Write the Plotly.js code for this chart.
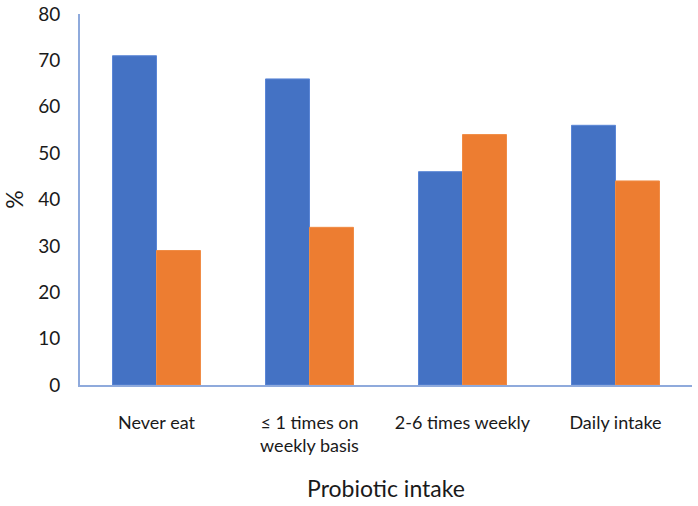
<!DOCTYPE html>
<html><head><meta charset="utf-8">
<script src="https://cdn.plot.ly/plotly-3.0.1.min.js"></script>
<style>html,body{margin:0;padding:0;background:#fff}</style>
</head><body>
<div id="chart" style="width:698px;height:506px"></div>
<script>
const categories = ["Never eat", "≤ 1 times on<br>weekly basis", "2-6 times weekly", "Daily intake"];
const seriesA = [71, 66, 46, 56];
const seriesB = [29, 34, 54, 44];
const yTicks = [0, 10, 20, 30, 40, 50, 60, 70, 80];

const font = "Lato, 'Open Sans', sans-serif";
const data = [
  {type: "bar", x: categories, y: seriesA, marker: {color: "#4472C4", line: {color: "#5b86d6", width: 1}}, showlegend: false, hoverinfo: "none"},
  {type: "bar", x: categories, y: seriesB, marker: {color: "#ED7D31", line: {color: "#f08c45", width: 1}}, showlegend: false, hoverinfo: "none"}
];
const layout = {
  width: 698, height: 506,
  margin: {l: 80, r: 6, t: 14, b: 121},
  paper_bgcolor: "#fff", plot_bgcolor: "#fff",
  barmode: "group", bargap: 0.425, bargroupgap: 0,
  font: {family: font, color: "#1a1a1a"},
  xaxis: {
    showline: true, linecolor: "#8FAADC", linewidth: 2,
    showgrid: false, zeroline: false, ticks: "",
    tickfont: {size: 18, color: "#1a1a1a"},
    ticklabelstandoff: 20,
    title: {text: "Probiotic intake", font: {size: 23, color: "#1a1a1a"}, standoff: 26}
  },
  yaxis: {
    range: [0, 80], tickvals: yTicks, ticktext: yTicks.map(String),
    showline: true, linecolor: "#8FAADC", linewidth: 2,
    showgrid: false, zeroline: false, ticks: "",
    tickfont: {size: 19, color: "#1a1a1a"},
    ticklabelstandoff: 14,
    title: {text: "%", font: {size: 23, color: "#1a1a1a"}, standoff: 14}
  }
};
Plotly.newPlot("chart", data, layout, {displayModeBar: false, staticPlot: true});
</script>
</body></html>
